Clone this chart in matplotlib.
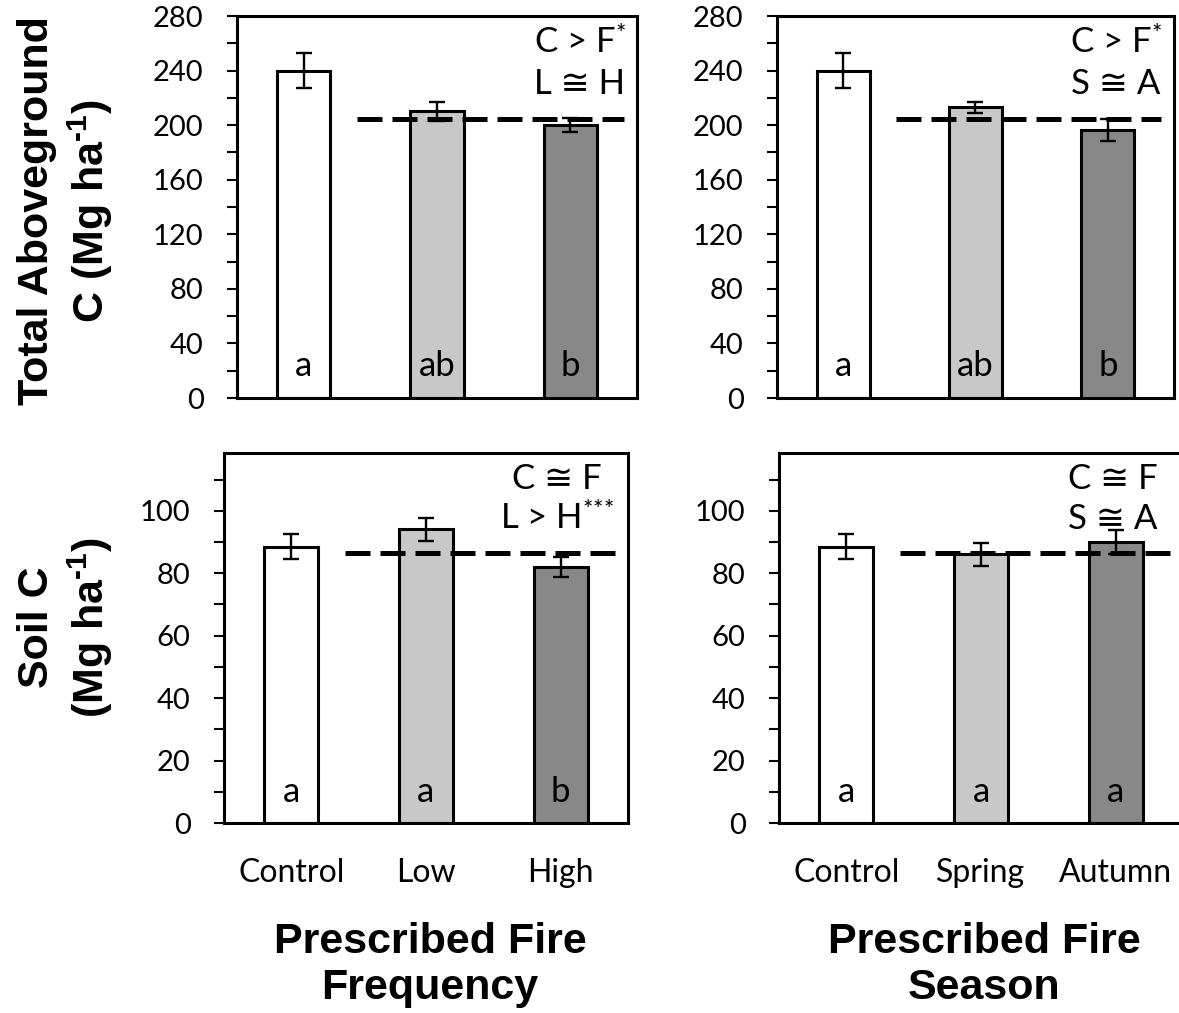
import matplotlib.pyplot as plt
from matplotlib.ticker import MultipleLocator

plt.rcParams['font.family'] = ['Lato', 'DejaVu Sans']
plt.rcParams['mathtext.fontset'] = 'custom'
plt.rcParams['mathtext.rm'] = 'Lato'
plt.rcParams['mathtext.bf'] = 'Liberation Sans:bold'

# treatments
freq_labels = ["Control", "Low", "High"]
season_labels = ["Control", "Spring", "Autumn"]

# total aboveground C (Mg ha-1)
agc_freq = [240, 210, 200]
agc_freq_err = [13, 7, 5]
agc_season = [240, 213, 196.5]
agc_season_err = [13, 4, 8]
agc_fire_mean = 204.5

# soil C (Mg ha-1)
soil_freq = [88.5, 94, 82]
soil_freq_err = [4, 3.7, 3.3]
soil_season = [88.5, 86, 90]
soil_season_err = [4, 3.7, 3.7]
soil_fire_mean = 86.5

# significance letters and contrasts
letters = [["a", "ab", "b"], ["a", "ab", "b"], ["a", "a", "b"], ["a", "a", "a"]]
contrasts = [
    ["C > F$\\mathrm{^{{*}}}$", "L \u2245 H"],
    ["C > F$\\mathrm{^{{*}}}$", "S \u2245 A"],
    ["C \u2245 F", "L > H$\\mathrm{^{{*}{*}{*}}}$"],
    ["C \u2245 F", "S \u2245 A"],
]

bar_colors = ["white", "#c8c8c8", "#888888"]

W, H = 1179, 1013
fig = plt.figure(figsize=(W / 100, H / 100), dpi=100)


def px_rect(x0, y0, x1, y1):
    return [x0 / W, 1 - y1 / H, (x1 - x0) / W, (y1 - y0) / H]


panels = [
    (px_rect(237, 16, 637, 398), agc_freq, agc_freq_err, agc_fire_mean, freq_labels, 280, 40, 20, False, 2.07),
    (px_rect(777, 16, 1174, 398), agc_season, agc_season_err, agc_fire_mean, season_labels, 280, 40, 20, False, 2.06),
    (px_rect(224, 453, 628, 823), soil_freq, soil_freq_err, soil_fire_mean, freq_labels, 118.5, 20, 10, True, 1.97),
    (px_rect(779, 453, 1183, 823), soil_season, soil_season_err, soil_fire_mean, season_labels, 118.5, 20, 10, True, 1.98),
]

for k, (rect, vals, errs, fmean, labels, ymax, major, minor, show_x, tx) in enumerate(panels):
    ax = fig.add_axes(rect)
    x = range(len(vals))
    ax.bar(x, vals, width=0.4, color=bar_colors, edgecolor="black", linewidth=2.2, zorder=2,
           yerr=errs, error_kw=dict(ecolor="black", elinewidth=1.7, capsize=6, capthick=1.7, zorder=4))
    ax.hlines(fmean, 0.4, 2.4, colors="black", linewidth=3.6, linestyles=(0, (5, 2)), zorder=3)

    ax.set_xlim(-0.5, 2.5)
    ax.set_ylim(0, ymax)
    ax.yaxis.set_major_locator(MultipleLocator(major))
    ax.yaxis.set_minor_locator(MultipleLocator(minor))
    if ymax < 200:
        ax.set_yticks(range(0, 101, 20))
    ax.tick_params(axis="y", which="both", direction="out", length=7, width=1.5, labelsize=21, pad=17)
    ax.tick_params(axis="x", length=0, labelsize=23, pad=25)
    ax.set_xticks(list(x))
    if show_x:
        ax.set_xticklabels(labels)
    else:
        ax.set_xticklabels([])
    for s in ax.spines.values():
        s.set_linewidth(2.2)

    for i, lt in enumerate(letters[k]):
        ax.text(i, 0.058, lt, transform=ax.get_xaxis_transform(), ha="center", va="baseline", fontsize=25)
    ax.text(tx, 0.903, contrasts[k][0], transform=ax.get_xaxis_transform(), ha="center", va="baseline", fontsize=25)
    ax.text(tx, 0.795, contrasts[k][1], transform=ax.get_xaxis_transform(), ha="center", va="baseline", fontsize=25)

label_font = dict(family="Liberation Sans", fontweight="bold", fontsize=31, ha="center", va="center",
                  multialignment="center", linespacing=1.2)
fig.text(66 / W, 1 - 211 / H, "Total Aboveground\nC (Mg ha$\\mathbf{^{\u20101}}$)", rotation=90, **label_font)
fig.text(66 / W, 1 - 627 / H, "Soil C\n(Mg ha$\\mathbf{^{\u20101}}$)", rotation=90, **label_font)
fig.text(430 / W, 1 - 965 / H, "Prescribed Fire\nFrequency", **label_font)
fig.text(984 / W, 1 - 965 / H, "Prescribed Fire\nSeason", **label_font)

fig.savefig("out.png", dpi=100)
